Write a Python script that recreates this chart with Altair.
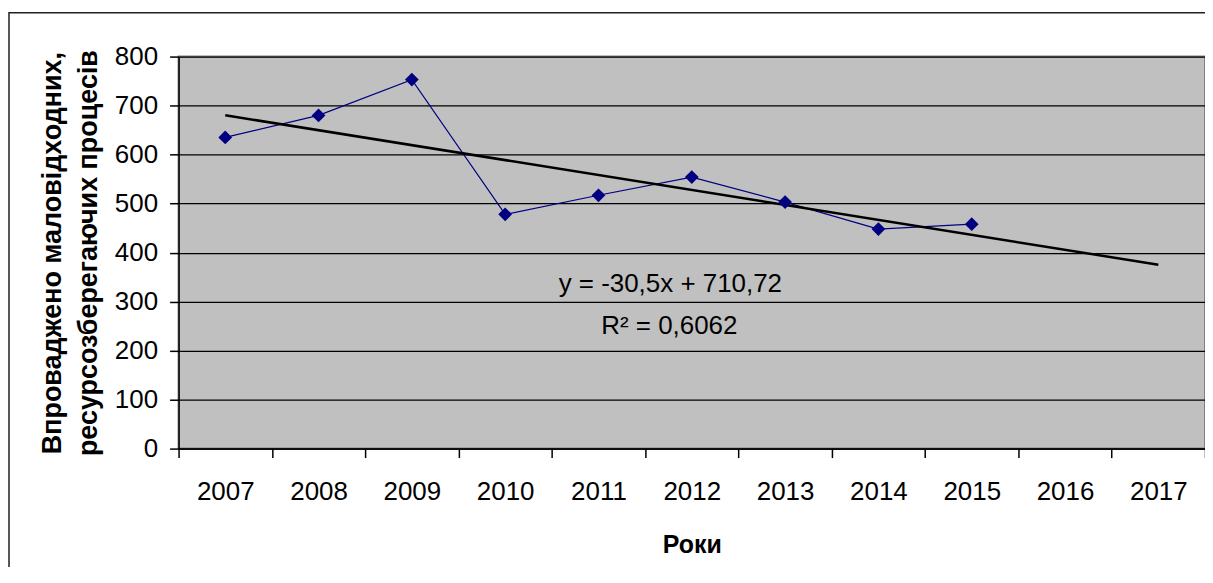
import altair as alt
import pandas as pd

years = ["2007", "2008", "2009", "2010", "2011", "2012", "2013", "2014", "2015", "2016", "2017"]
obs_years = ["2007", "2008", "2009", "2010", "2011", "2012", "2013", "2014", "2015"]
obs_values = [635, 680, 753, 478, 517, 554, 503, 448, 458]
trend_years = ["2007", "2017"]
trend_values = [680.22, 375.22]
y_ticks = [0, 100, 200, 300, 400, 500, 600, 700, 800]
eq_lines = ["y = -30,5x + 710,72", "R² = 0,6062"]

FONT = "Liberation Sans"

obs = pd.DataFrame({"year": obs_years, "value": obs_values})
trend = pd.DataFrame({"year": trend_years, "value": trend_values})
frame_df = pd.DataFrame({"k": [0]})
eq_df = pd.DataFrame({"t": [eq_lines[0]]})
r2_df = pd.DataFrame({"t": [eq_lines[1]]})

x_scale = alt.Scale(type="band", domain=years, paddingInner=0, paddingOuter=0)
y_scale = alt.Scale(domain=[0, 800], nice=False, zero=True)

x_axis = alt.Axis(
    title="Роки", titleFont=FONT, titleFontSize=25, titleFontWeight="bold", titleColor="black",
    titlePadding=28, labelFont=FONT, labelFontSize=26, labelColor="black", labelAngle=0,
    labelPadding=21, tickBand="extent", tickSize=9, tickColor="black", tickWidth=1.5,
    domainColor="black", domainWidth=1.5, grid=False,
)
y_axis = alt.Axis(
    title=["Впроваджено маловідходних,", "ресурсозберегаючих процесів"],
    titleFont=FONT, titleFontSize=27, titleFontWeight="bold", titleColor="black",
    titleLineHeight=36, titlePadding=12,
    values=y_ticks, labelFont=FONT, labelFontSize=26, labelColor="black", labelPadding=12,
    tickSize=9, tickColor="black", tickWidth=1.5, domainColor="black", domainWidth=1.5,
    grid=True, gridColor="black", gridWidth=1.3,
)

frame = alt.Chart(frame_df).mark_rect(filled=False, stroke="#202020", strokeWidth=1.5).encode(
    x=alt.value(-170), x2=alt.value(1100), y=alt.value(-44), y2=alt.value(700)
)

line = alt.Chart(obs).mark_line(color="#000080", strokeWidth=1.2).encode(
    x=alt.X("year:O", scale=x_scale, axis=x_axis),
    y=alt.Y("value:Q", scale=y_scale, axis=y_axis),
)
trend_line = alt.Chart(trend).mark_line(color="black", strokeWidth=2.5).encode(
    x=alt.X("year:O", scale=x_scale),
    y=alt.Y("value:Q", scale=y_scale),
)
points = alt.Chart(obs).mark_point(shape="diamond", filled=True, color="#000080", size=190, opacity=1).encode(
    x=alt.X("year:O", scale=x_scale),
    y=alt.Y("value:Q", scale=y_scale),
)
eq = alt.Chart(eq_df).mark_text(font=FONT, fontSize=26, color="black", align="center", baseline="middle").encode(
    x=alt.value(493), y=alt.value(228), text="t:N"
)
r2 = alt.Chart(r2_df).mark_text(font=FONT, fontSize=26, color="black", align="center", baseline="middle").encode(
    x=alt.value(492), y=alt.value(270), text="t:N"
)

chart = alt.layer(frame, line, trend_line, points, eq, r2).properties(
    width=1029, height=393,
    autosize=alt.AutoSizeParams(type="none"),
    padding={"left": 171, "top": 48, "right": 0, "bottom": 118},
    background="white",
).configure_view(
    fill="#C0C0C0", stroke="#808080", strokeWidth=2,
)

chart.save("out.html", embed_options={"renderer": "svg", "actions": False})
